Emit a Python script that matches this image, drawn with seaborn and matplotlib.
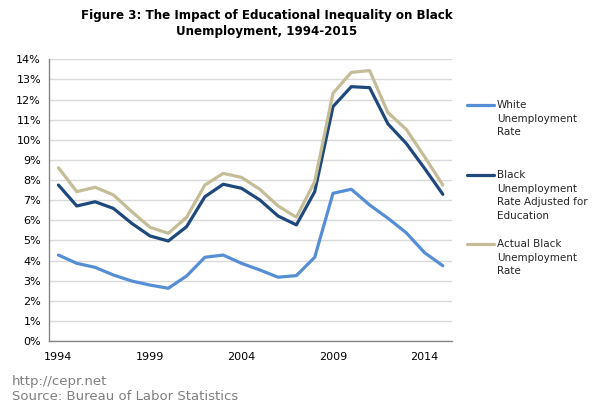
import matplotlib
matplotlib.use("Agg")
import matplotlib.pyplot as plt
from matplotlib.lines import Line2D
from matplotlib.ticker import PercentFormatter
import seaborn as sns
import pandas as pd

years = list(range(1994, 2016))
white = [4.27, 3.86, 3.66, 3.28, 2.98, 2.78, 2.62, 3.23, 4.16, 4.27, 3.86,
         3.53, 3.17, 3.25, 4.16, 7.34, 7.54, 6.76, 6.10, 5.38, 4.39, 3.74]
black_adj = [7.75, 6.71, 6.92, 6.59, 5.85, 5.22, 4.97, 5.68, 7.17, 7.79, 7.59,
             7.01, 6.21, 5.77, 7.42, 11.65, 12.64, 12.59, 10.79, 9.82, 8.58, 7.29]
black_actual = [8.61, 7.42, 7.64, 7.26, 6.43, 5.65, 5.35, 6.15, 7.75, 8.33, 8.13,
                7.54, 6.71, 6.15, 7.92, 12.31, 13.35, 13.44, 11.35, 10.52, 9.16, 7.75]
series_names = ["White\nUnemployment\nRate",
                "Black\nUnemployment\nRate Adjusted for\nEducation",
                "Actual Black\nUnemployment\nRate"]
colors = ["#558ED5", "#1F497D", "#C4BD97"]
x_ticks = [1994, 1999, 2004, 2009, 2014]
y_ticks = list(range(0, 15))
title_lines = ["Figure 3: The Impact of Educational Inequality on Black",
               "Unemployment, 1994-2015"]
footer = ["http://cepr.net", "Source: Bureau of Labor Statistics"]

df = pd.DataFrame({
    "year": years * 3,
    "value": white + black_adj + black_actual,
    "series": [series_names[0]] * len(years) + [series_names[1]] * len(years)
              + [series_names[2]] * len(years),
})

sns.set_style("white")
plt.rcParams["font.family"] = ["DejaVu Sans"]

fig = plt.figure(figsize=(6.0, 4.07), dpi=100)
ax = fig.add_axes([0.0822, 0.1622, 0.6711, 0.6921])

sns.lineplot(data=df, x="year", y="value", hue="series", hue_order=series_names,
             palette=colors, linewidth=2.3, ax=ax, legend=False)

ax.set_xlim(1993.5, 2015.5)
ax.set_ylim(0, 14)
ax.set_yticks(y_ticks)
ax.yaxis.set_major_formatter(PercentFormatter(decimals=0))
ax.set_xticks(x_ticks)
ax.set_xticklabels([str(t) for t in x_ticks])
ax.tick_params(axis="both", length=0, labelsize=8, colors="#000000")
ax.tick_params(axis="x", pad=8)
ax.tick_params(axis="y", pad=6)
ax.set_xlabel("")
ax.set_ylabel("")
ax.grid(axis="y", color="#D9D9D9", linewidth=1)
ax.set_axisbelow(True)
for s in ["top", "right"]:
    ax.spines[s].set_visible(False)
for s in ["left", "bottom"]:
    ax.spines[s].set_color("#868686")
    ax.spines[s].set_linewidth(1)

for i, line in enumerate(title_lines):
    fig.text(0.445, 1 - (16 + 15 * i) / 407, line, ha="center", va="center",
             fontsize=8.6, fontweight="bold", color="#000000")

# legend
leg_y = [105, 175, 244]
for name, c, yy in zip(series_names, colors, leg_y):
    yf = 1 - yy / 407
    fig.add_artist(Line2D([467 / 600, 494 / 600], [yf, yf], color=c, linewidth=2.3))
    fig.text(497 / 600, 1 - (yy - 5) / 407, name, ha="left", va="top",
             fontsize=7.5, color="#262626", linespacing=1.45)

fig.text(12 / 600, 1 - 381 / 407, footer[0], ha="left", va="center",
         fontsize=9.5, color="#7F7F7F")
fig.text(12 / 600, 1 - 397 / 407, footer[1], ha="left", va="center",
         fontsize=9.5, color="#7F7F7F")

fig.savefig("out.png", dpi=100)
